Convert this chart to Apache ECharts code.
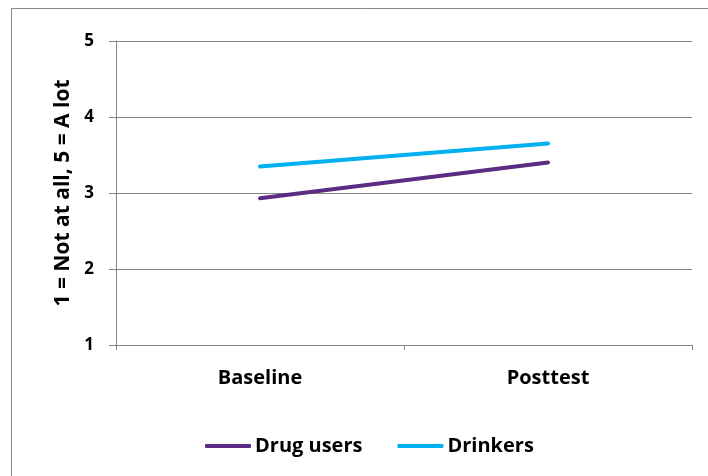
<!DOCTYPE html>
<html>
<head>
<meta charset="utf-8">
<script src="https://cdn.jsdelivr.net/npm/echarts@6/dist/echarts.min.js"></script>
<style>
html,body{margin:0;padding:0;background:#fff;}
#c{width:708px;height:476px;}
</style>
</head>
<body>
<div id="c"></div>
<script>
const categories = ['Baseline', 'Posttest'];
const drugUsers = [2.93, 3.40];
const drinkers = [3.35, 3.65];
const yTicks = [1, 2, 3, 4, 5];

const FONT = '"Open Sans", sans-serif';
const chart = echarts.init(document.getElementById('c'));
chart.setOption({
  animation: false,
  backgroundColor: '#fff',
  graphic: [{
    type: 'rect',
    shape: { x: 11.5, y: 8.5, width: 720, height: 490 },
    style: { fill: 'none', stroke: '#898989', lineWidth: 1 },
    silent: true
  }],
  grid: { left: 116, right: 16, top: 41, bottom: 131 },
  legend: {
    left: 205,
    top: 436,
    padding: 0,
    icon: 'roundRect',
    itemWidth: 46,
    itemHeight: 4,
    itemGap: 35,
    textStyle: { fontFamily: FONT, fontWeight: 'bold', fontSize: 20, color: '#000', padding: [0, 0, 0, -1] },
    data: ['Drug users', 'Drinkers']
  },
  xAxis: {
    type: 'category',
    data: categories,
    boundaryGap: true,
    axisLine: { lineStyle: { color: '#868686', width: 1 } },
    axisTick: { show: true, length: 5, lineStyle: { color: '#868686' } },
    axisLabel: { margin: 23, fontFamily: FONT, fontWeight: 'bold', fontSize: 20, color: '#000' }
  },
  yAxis: {
    type: 'value',
    min: yTicks[0],
    max: yTicks[yTicks.length - 1],
    interval: 1,
    name: '1 = Not at all, 5 = A lot',
    nameLocation: 'middle',
    nameGap: 42,
    nameTextStyle: { fontFamily: FONT, fontWeight: 'bold', fontSize: 21, color: '#000' },
    axisLine: { show: true, lineStyle: { color: '#868686', width: 1 } },
    axisTick: { show: true, length: 7, lineStyle: { color: '#868686' } },
    axisLabel: { margin: 22, fontFamily: FONT, fontWeight: 'bold', fontSize: 17, color: '#000' },
    splitLine: { show: true, lineStyle: { color: '#868686', width: 1 } }
  },
  series: [
    {
      name: 'Drug users',
      type: 'line',
      data: drugUsers,
      symbol: 'none',
      lineStyle: { color: '#5B2C82', width: 4, cap: 'round' },
      itemStyle: { color: '#5B2C82' }
    },
    {
      name: 'Drinkers',
      type: 'line',
      data: drinkers,
      symbol: 'none',
      lineStyle: { color: '#00B0F0', width: 4, cap: 'round' },
      itemStyle: { color: '#00B0F0' }
    }
  ]
});
</script>
</body>
</html>
